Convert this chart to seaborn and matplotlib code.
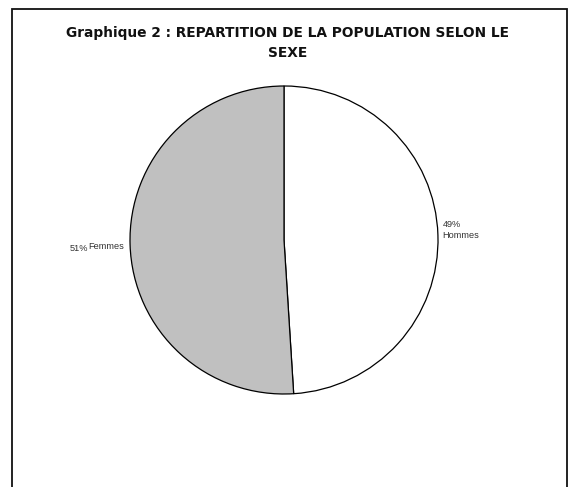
import matplotlib
matplotlib.use("Agg")
import matplotlib.pyplot as plt
import seaborn as sns
from matplotlib.patches import Rectangle

sns.set_theme(style="white")
plt.rcParams['font.family'] = ['Liberation Sans', 'DejaVu Sans']

categories = ["Hommes", "Femmes"]
values = [49, 51]
pct_labels = ["49%", "51%"]
colors = ["#FFFFFF", "#C0C0C0"]
title = "Graphique 2 : REPARTITION DE LA POPULATION SELON LE\nSEXE"

W, H = 569, 487
fig = plt.figure(figsize=(W / 100, H / 100), dpi=100)
fig.patch.set_facecolor("white")

# outer frame
fig.patches.append(Rectangle((12 / W, -0.05), (567 - 12) / W, 1.05 - 9 / H,
                             transform=fig.transFigure, fill=False,
                             edgecolor="#111111", linewidth=1.3))

cx, cy, r = 284, 240, 154
ax = fig.add_axes([(cx - r) / W, (H - cy - r) / H, 2 * r / W, 2 * r / H])
ax.pie(values, colors=colors, startangle=90, counterclock=False,
       wedgeprops=dict(edgecolor="black", linewidth=0.9), radius=1.0)
ax.set_xlim(-1, 1)
ax.set_ylim(-1, 1)
ax.set_aspect("equal")
ax.axis("off")

# labels
lab_font = dict(fontsize=6.6, color="#333333")
ax.text(1.03, 0.065, f"{pct_labels[0]}\n{categories[0]}", ha="left", va="center",
        linespacing=1.15, **lab_font)
ax.text(-1.39, -0.052, pct_labels[1], ha="left", va="center", **lab_font)
ax.text(-1.039, -0.045, categories[1], ha="right", va="center", **lab_font)

fig.text(288 / W, 1 - 43 / H, title, ha="center", va="center",
         multialignment="center", fontsize=9.9, fontweight="bold",
         family=["DejaVu Sans"], color="#111111", linespacing=1.5)

fig.savefig("out.png", dpi=100, facecolor="white")
